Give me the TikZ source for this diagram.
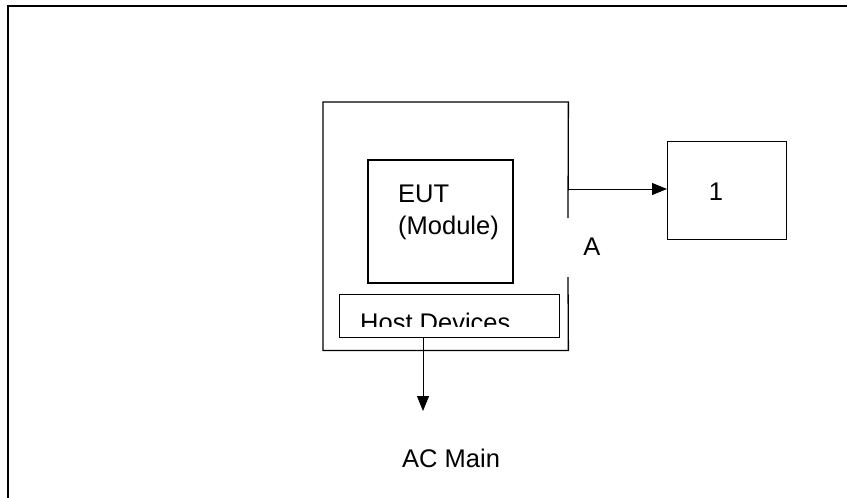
\documentclass[tikz,border=0pt]{standalone}
\usepackage{fontspec}
\setmainfont{Liberation Sans}
\usetikzlibrary{arrows.meta}
\begin{document}
\begin{tikzpicture}[x=1pt,y=-1pt,
  lbl/.style={inner sep=0pt,font=\fontsize{25.5}{30}\selectfont},
  boxnode/.style={inner sep=0pt,anchor=north west},
  conn/.style={line width=1pt,-{Triangle[length=15pt,width=12pt]}}]
\useasboundingbox (0,0) rectangle (847,498);
% outer frame (top and left edges only)
\draw[line width=2pt] (8,498) -- (8,6) -- (847,6);
% main host box, right edge with a gap
\node[boxnode,minimum width=245pt,minimum height=248pt] (host) at (323,102) {};
\draw[line width=1.3pt] (568,218) -- (host.north east) -- (host.north west) -- (host.south west) -- (host.south east) -- (568,277);
% EUT box
\node[boxnode,draw,line width=2pt,minimum width=145pt,minimum height=123pt] (eut) at (367,159) {};
\node[lbl,anchor=base west] (eutt) at (398,202) {EUT};
\node[lbl,anchor=base west] (eutm) at (398,234) {(Module)};
% Host devices box
\node[boxnode,draw,line width=0.8pt,minimum width=220pt,minimum height=43pt] (hd) at (339,294) {};
\begin{scope}
\clip (339,294) rectangle (559,326);
\node[lbl,anchor=base west] (hdt) at (360,331) {Host Devices};
\end{scope}
% box 1
\node[boxnode,draw,line width=1pt,minimum width=119pt,minimum height=98pt] (one) at (667,141) {};
\node[lbl,anchor=base] (onet) at (716,200) {1};
% label A
\node[lbl,anchor=base] (a) at (592,255) {A};
% AC main
\node[lbl,anchor=base west] (ac) at (402,467) {AC Main};
% connectors
\coordinate (outA) at (568,189);
\draw[conn] (outA) -- (one.west |- outA);
\coordinate (hdb) at (423,337);
\coordinate (acin) at (423,411);
\draw[conn] (hdb) -- (acin);
\end{tikzpicture}
\end{document}
